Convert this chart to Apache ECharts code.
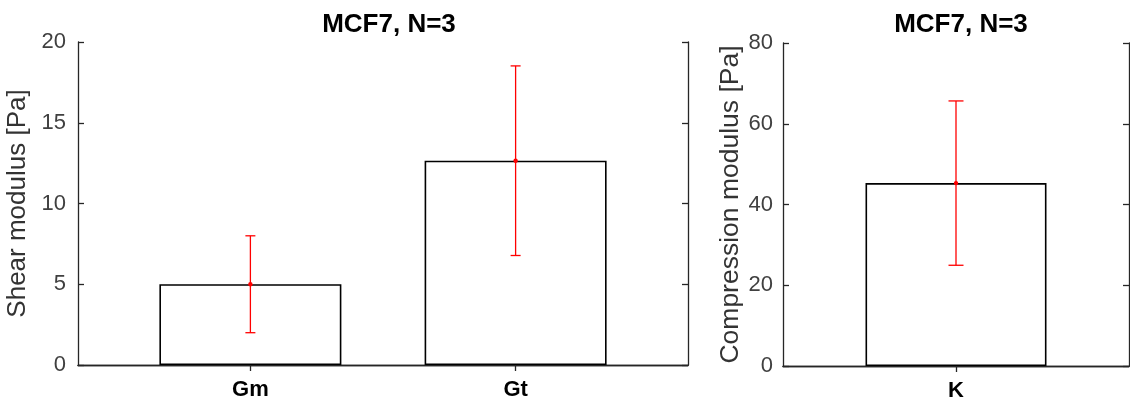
<!DOCTYPE html>
<html>
<head>
<meta charset="utf-8">
<script src="https://cdn.jsdelivr.net/npm/echarts@6/dist/echarts.min.js"></script>
<style>
  html, body { margin: 0; padding: 0; background: #fff; }
  #chart { width: 1130px; height: 404px; }
</style>
</head>
<body>
<div id="chart"></div>
<script>
// ---- Data ----
const titleText = 'MCF7, N=3';
const shearCategories = ['Gm', 'Gt'];
const shearMeans = [5.0, 12.65];
const shearErr = [3.0, 5.87];
const shearTicks = [0, 5, 10, 15, 20];
const compCategories = ['K'];
const compMeans = [45.3];
const compErr = [20.35];
const compTicks = [0, 20, 40, 60, 80];
const shearAxisName = 'Shear modulus [Pa]';
const compAxisName = 'Compression modulus [Pa]';

const FONT = '"Liberation Sans", Arial, Helvetica, sans-serif';
const AX = '#262626';

const chart = echarts.init(document.getElementById('chart'), null, { renderer: 'canvas' });

function errorSeries(idx, cats, means, errs, capW) {
  return {
    type: 'custom',
    xAxisIndex: idx * 2,
    yAxisIndex: idx * 2,
    z: 10,
    data: cats.map((c, i) => [i + 1, means[i], means[i] - errs[i], means[i] + errs[i]]),
    renderItem: function (params, api) {
      const x = api.value(0);
      const m = api.coord([x, api.value(1)]);
      const lo = api.coord([x, api.value(2)]);
      const hi = api.coord([x, api.value(3)]);
      const st = { stroke: '#ff0000', lineWidth: 1.3 };
      return {
        type: 'group',
        children: [
          { type: 'line', shape: { x1: lo[0], y1: lo[1], x2: hi[0], y2: hi[1] }, style: st },
          { type: 'line', shape: { x1: lo[0] - capW / 2, y1: lo[1], x2: lo[0] + capW / 2, y2: lo[1] }, style: st },
          { type: 'line', shape: { x1: hi[0] - capW / 2, y1: hi[1], x2: hi[0] + capW / 2, y2: hi[1] }, style: st },
          { type: 'circle', shape: { cx: m[0], cy: m[1], r: 2.2 }, style: { fill: '#ff0000' } }
        ]
      };
    }
  };
}

function xAxes(gridIndex, min, max, cats) {
  const ticks = cats.map((c, i) => i + 1);
  const base = {
    gridIndex: gridIndex, type: 'value', min: min, max: max,
    splitLine: { show: false },
    axisLine: { show: true, lineStyle: { color: AX, width: 1.3 } }
  };
  return [
    Object.assign({}, base, {
      position: 'bottom',
      axisTick: { show: true, inside: true, length: 6, customValues: ticks, lineStyle: { color: AX, width: 1.3 } },
      axisLabel: {
        show: true, customValues: ticks, margin: 14,
        formatter: v => cats[Math.round(v) - 1] || '',
        fontFamily: FONT, fontSize: 22, fontWeight: 'bold', color: '#000'
      }
    }),
    Object.assign({}, base, {
      position: 'top',
      axisTick: { show: true, inside: true, length: 6, customValues: ticks, lineStyle: { color: AX, width: 1.3 } },
      axisLabel: { show: false }
    })
  ];
}

function yAxes(gridIndex, ticks, name, nameGap, nameSize, labelMargin) {
  const min = ticks[0], max = ticks[ticks.length - 1], interval = ticks[1] - ticks[0];
  const base = {
    gridIndex: gridIndex, type: 'value', min: min, max: max, interval: interval,
    splitLine: { show: false },
    axisLine: { show: true, lineStyle: { color: AX, width: 1.3 } },
    axisTick: { show: true, inside: true, length: 6, lineStyle: { color: AX, width: 1.3 } }
  };
  return [
    Object.assign({}, base, {
      position: 'left',
      name: name, nameLocation: 'middle', nameGap: nameGap,
      nameTextStyle: { fontFamily: FONT, fontSize: nameSize, color: '#333' },
      axisLabel: { show: true, margin: labelMargin, fontFamily: FONT, fontSize: 22, color: '#404040' }
    }),
    Object.assign({}, base, {
      position: 'right',
      axisLabel: { show: false }
    })
  ];
}

const option = {
  backgroundColor: '#fff',
  animation: false,
  title: [
    { text: titleText, left: 384, top: 7, textAlign: 'center',
      textStyle: { fontFamily: FONT, fontSize: 26, fontWeight: 'bold', color: '#000' } },
    { text: titleText, left: 956, top: 7, textAlign: 'center',
      textStyle: { fontFamily: FONT, fontSize: 26, fontWeight: 'bold', color: '#000' } }
  ],
  grid: [
    { left: 78, top: 42, width: 610, height: 323, containLabel: false, outerBoundsMode: 'none' },
    { left: 783, top: 43, width: 346, height: 323, containLabel: false, outerBoundsMode: 'none' }
  ],
  xAxis: [].concat(xAxes(0, 0.35, 2.65, shearCategories), xAxes(1, 0.5, 1.5, compCategories)),
  yAxis: [].concat(yAxes(0, shearTicks, shearAxisName, 46, 26, 12), yAxes(1, compTicks, compAxisName, 38, 26.5, 10)),
  series: [
    {
      type: 'bar', xAxisIndex: 0, yAxisIndex: 0, barWidth: 182,
      data: shearCategories.map((c, i) => [i + 1, shearMeans[i]]),
      itemStyle: { color: '#fff', borderColor: '#000', borderWidth: 1.6 }
    },
    errorSeries(0, shearCategories, shearMeans, shearErr, 10),
    {
      type: 'bar', xAxisIndex: 2, yAxisIndex: 2, barWidth: 181,
      data: compCategories.map((c, i) => [i + 1, compMeans[i]]),
      itemStyle: { color: '#fff', borderColor: '#000', borderWidth: 1.6 }
    },
    errorSeries(1, compCategories, compMeans, compErr, 15)
  ]
};
chart.setOption(option);
</script>
</body>
</html>
